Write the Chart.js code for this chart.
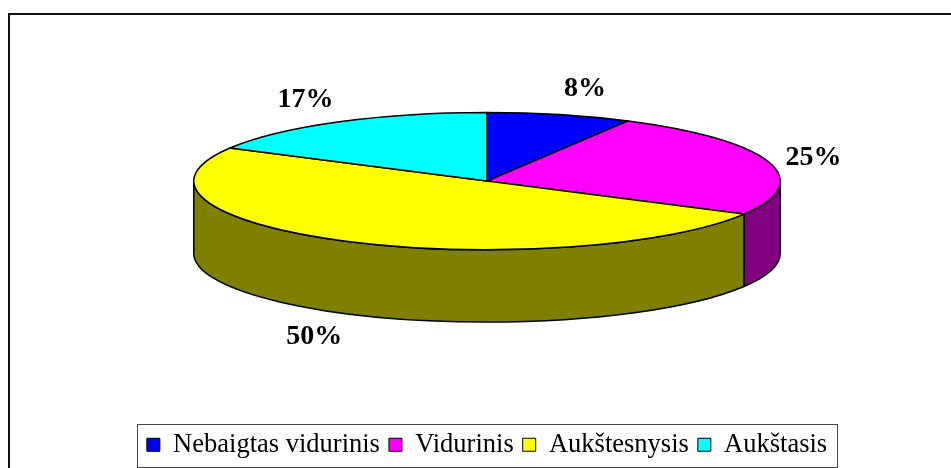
<!DOCTYPE html>
<html lang="lt">
<head>
<meta charset="utf-8">
<title>Išsilavinimas</title>
<script src="https://cdn.jsdelivr.net/npm/chart.js@4.4.1/dist/chart.umd.min.js"></script>
<style>
  html, body { margin: 0; padding: 0; background: #fff; }
  canvas { display: block; }
</style>
</head>
<body>
<canvas id="Grafico_Torta3D" width="951" height="468"></canvas>
<script>
// Datos del gráfico
const categorias = ["Nebaigtas vidurinis", "Vidurinis", "Aukštesnysis", "Aukštasis"];
const valores = [8, 25, 50, 17];
const coloresTapa = ["#0000ff", "#ff00ff", "#ffff00", "#00ffff"];
const coloresLado = ["#000080", "#800080", "#808000", "#008080"];

// Proporciones de la torta en perspectiva (relativas al radio que calcula Chart.js)
const escalaX = 1.432;      // radio horizontal / radio de Chart.js
const inclinacion = 0.234;  // radio vertical / radio horizontal
const profundidad = 0.247;  // grosor / radio horizontal

const torta3D = {
  id: "torta3D",
  beforeDraw(chart) {
    // marco exterior (cortado por la derecha y por abajo)
    const ctx = chart.ctx;
    ctx.save();
    ctx.strokeStyle = "#111";
    ctx.lineWidth = 2;
    ctx.strokeRect(9, 14, chart.width, chart.height);
    ctx.restore();
  },
  beforeDatasetsDraw(chart) {
    const ctx = chart.ctx;
    const arcos = chart.getDatasetMeta(0).data;
    const rx = arcos[0].outerRadius * escalaX;
    const ry = rx * inclinacion;
    const prof = rx * profundidad;
    const cx = arcos[0].x;
    const cy = arcos[0].y - prof / 2;

    ctx.save();
    ctx.lineWidth = 1.5;
    ctx.strokeStyle = "#000";
    ctx.lineJoin = "round";

    // paredes laterales: solo la mitad delantera (0..PI)
    arcos.forEach((arco, i) => {
      for (let k = -1; k <= 1; k++) {
        const s = Math.max(arco.startAngle, 2 * Math.PI * k);
        const e = Math.min(arco.endAngle, Math.PI + 2 * Math.PI * k);
        if (e <= s) continue;
        ctx.beginPath();
        ctx.ellipse(cx, cy, rx, ry, 0, s, e);
        ctx.ellipse(cx, cy + prof, rx, ry, 0, e, s, true);
        ctx.closePath();
        ctx.fillStyle = coloresLado[i];
        ctx.fill();
        ctx.stroke();
      }
    });

    // caras superiores
    arcos.forEach((arco, i) => {
      ctx.beginPath();
      ctx.moveTo(cx, cy);
      ctx.ellipse(cx, cy, rx, ry, 0, arco.startAngle, arco.endAngle);
      ctx.closePath();
      ctx.fillStyle = coloresTapa[i];
      ctx.fill();
      ctx.stroke();
    });

    // etiquetas de porcentaje, fuera del borde de cada porción
    const total = valores.reduce((a, b) => a + b, 0);
    ctx.font = "bold 28px 'Liberation Serif', serif";
    ctx.fillStyle = "#000";
    ctx.textAlign = "center";
    ctx.textBaseline = "middle";
    arcos.forEach((arco, i) => {
      const medio = (arco.startAngle + arco.endAngle) / 2;
      const ux = Math.cos(medio), uy = Math.sin(medio);
      const texto = Math.round(valores[i] / total * 100) + "%";
      const px = cx + ux * (rx + 28) + Math.sign(ux) * 18;
      const py = cy + uy * (ry + 32) - Math.sign(uy) * 5 + (uy > 0 ? prof : 0);
      ctx.fillText(texto, px, py);
    });
    ctx.restore();
    return false; // no dibujar la torta plana por defecto
  },
  afterDraw(chart) {
    // recuadro de la leyenda
    const ley = chart.legend;
    const cajas = ley.legendHitBoxes;
    if (!cajas || !cajas.length) return;
    const izq = Math.min(...cajas.map(c => c.left));
    const der = Math.max(...cajas.map(c => c.left + c.width));
    const ctx = chart.ctx;
    ctx.save();
    ctx.strokeStyle = "#444";
    ctx.lineWidth = 1;
    ctx.strokeRect(Math.round(izq - 10) + 0.5, Math.round(ley.top) + 1.5,
                   Math.round(der - izq + 20), Math.round(ley.height) - 3);
    ctx.restore();
  }
};

document.addEventListener("DOMContentLoaded", () => {
  const lienzo = document.getElementById("Grafico_Torta3D");
  new Chart(lienzo.getContext("2d"), {
    type: "pie",
    data: {
      labels: categorias,
      datasets: [{
        data: valores,
        backgroundColor: coloresTapa,
        borderColor: "#000",
        borderWidth: 1
      }]
    },
    options: {
      responsive: false,
      animation: false,
      devicePixelRatio: 1,
      events: [],
      layout: { padding: { left: 23, top: 12, right: 0, bottom: 0 } },
      plugins: {
        tooltip: { enabled: false },
        legend: {
          position: "bottom",
          labels: {
            boxWidth: 13,
            boxHeight: 13,
            padding: 9,
            color: "#000",
            font: { family: "'Liberation Serif', serif", size: 26.5 }
          }
        }
      }
    },
    plugins: [torta3D]
  });
});
</script>
</body>
</html>
